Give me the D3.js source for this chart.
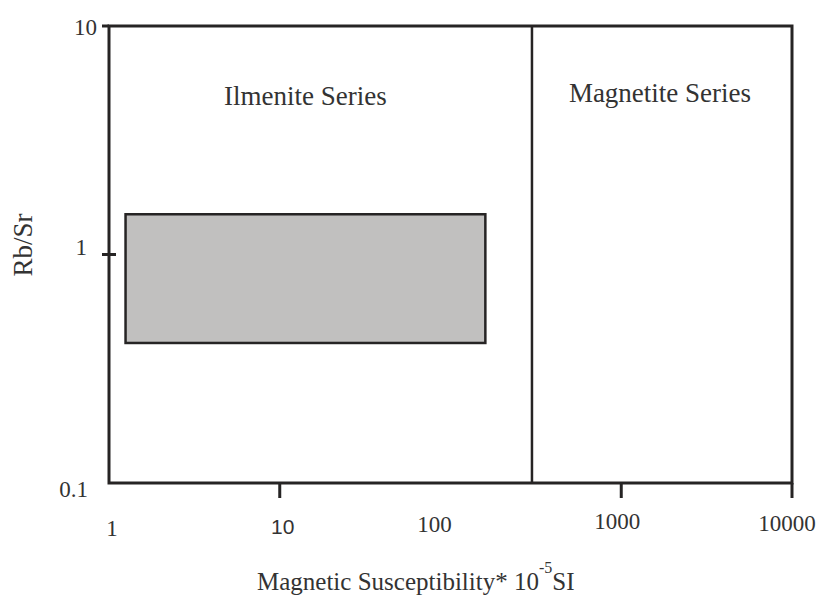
<!DOCTYPE html>
<html>
<head>
<meta charset="utf-8">
<script src="https://cdn.jsdelivr.net/npm/d3@7"></script>
<style>
  html, body { margin: 0; padding: 0; background: #fff; }
  svg { display: block; }
</style>
</head>
<body>
<script>
// Axis domains (log scales)
const xDomain = [1, 10000];
const yDomain = [0.1, 10];

// Tick labels and tick marks
const xTickValues = [1, 10, 100, 1000, 10000];
const xTickLabels = ["1", "10", "100", "1000", "10000"];
const xTickMarks = [10, 1000, 10000];
const yTickValues = [0.1, 1, 10];
const yTickLabels = ["0.1", "1", "10"];
const yTickMarks = [1, 10];

// Boundary between ilmenite and magnetite series (magnetic susceptibility)
const seriesBoundary = 300;

// Sample field: magnetic susceptibility range and Rb/Sr range
const fieldSusceptibility = [1.25, 160];
const fieldRbSr = [0.41, 1.5];

const regionNames = ["Ilmenite Series", "Magnetite Series"];

const W = 817, H = 597;
const margin = { left: 109, right: 25, top: 26, bottom: 114 };
const serif = "'Liberation Serif', 'Times New Roman', Times, 'DejaVu Serif', serif";
const sans = "'Liberation Sans', Arial, Helvetica, sans-serif";
const textColor = "#333";

const svg = d3.select("body").append("svg")
  .attr("width", W).attr("height", H)
  .attr("font-family", serif);

const x = d3.scaleLog().domain(xDomain).range([margin.left, W - margin.right]);
const y = d3.scaleLog().domain(yDomain).range([H - margin.bottom, margin.top]);

const ink = "#262424";

// Sample field box
svg.append("rect")
  .attr("x", x(fieldSusceptibility[0]))
  .attr("y", y(fieldRbSr[1]))
  .attr("width", x(fieldSusceptibility[1]) - x(fieldSusceptibility[0]))
  .attr("height", y(fieldRbSr[0]) - y(fieldRbSr[1]))
  .attr("fill", "#c1c0bf")
  .attr("stroke", ink)
  .attr("stroke-width", 2.5);

// Series boundary
svg.append("line")
  .attr("x1", x(seriesBoundary)).attr("x2", x(seriesBoundary))
  .attr("y1", y(yDomain[1])).attr("y2", y(yDomain[0]))
  .attr("stroke", ink).attr("stroke-width", 2.5);

// Frame
svg.append("rect")
  .attr("x", x(xDomain[0])).attr("y", y(yDomain[1]))
  .attr("width", x(xDomain[1]) - x(xDomain[0]))
  .attr("height", y(yDomain[0]) - y(yDomain[1]))
  .attr("fill", "none")
  .attr("stroke", ink).attr("stroke-width", 3);

// X tick marks (below the frame)
svg.selectAll(".xtick").data(xTickMarks).join("line")
  .attr("class", "xtick")
  .attr("x1", d => x(d)).attr("x2", d => x(d))
  .attr("y1", y(yDomain[0])).attr("y2", y(yDomain[0]) + 15)
  .attr("stroke", ink).attr("stroke-width", 3);

// Y tick marks
svg.selectAll(".ytick").data(yTickMarks).join("line")
  .attr("class", "ytick")
  .attr("x1", x(xDomain[0]) - 7)
  .attr("x2", d => d === 1 ? x(xDomain[0]) + 7 : x(xDomain[0]))
  .attr("y1", d => y(d)).attr("y2", d => y(d))
  .attr("stroke", ink).attr("stroke-width", 3);

// X tick labels (the "10" is set in a sans face)
const xLabelShift = { 1: 3, 10: 3, 100: -16, 1000: -4, 10000: -5 };
svg.selectAll(".xlab").data(xTickValues).join("text")
  .attr("class", "xlab")
  .attr("x", d => x(d) + xLabelShift[d])
  .attr("y", (d, i) => y(yDomain[0]) + 50 + [3, 1, -1, -4, -2][i])
  .attr("text-anchor", "middle")
  .attr("fill", textColor)
  .attr("font-size", d => d === 10 ? 21 : 23)
  .attr("font-family", d => d === 10 ? sans : serif)
  .text((d, i) => xTickLabels[i]);

// Y tick labels
const yLabelNudge = { 10: [0, 9], 1: [-10, 0], 0.1: [-9, 14] };
svg.selectAll(".ylab").data(yTickValues).join("text")
  .attr("class", "ylab")
  .attr("x", d => 97 + yLabelNudge[d][0])
  .attr("y", d => y(d) + yLabelNudge[d][1])
  .attr("text-anchor", "end")
  .attr("fill", textColor)
  .attr("font-size", 23)
  .text((d, i) => yTickLabels[i]);

// Region names
svg.append("text")
  .attr("x", (x(fieldSusceptibility[0]) + x(fieldSusceptibility[1])) / 2)
  .attr("y", y(yDomain[1]) + 79)
  .attr("text-anchor", "middle")
  .attr("fill", textColor)
  .attr("font-size", 27)
  .text(regionNames[0]);

svg.append("text")
  .attr("x", (x(seriesBoundary) + x(xDomain[1])) / 2 - 2)
  .attr("y", y(yDomain[1]) + 76)
  .attr("text-anchor", "middle")
  .attr("fill", textColor)
  .attr("font-size", 27)
  .text(regionNames[1]);

// Axis titles
const xt = svg.append("text")
  .attr("x", 257).attr("y", 590)
  .attr("fill", textColor)
  .attr("font-size", 25);
xt.append("tspan").text("Magnetic Susceptibility* 10");
xt.append("tspan").attr("dx", 0).attr("dy", -17).attr("font-size", 16).text("-5");
xt.append("tspan").attr("dx", 0).attr("dy", 17).text("SI");

svg.append("text")
  .attr("transform", "translate(32,245) rotate(-90)")
  .attr("text-anchor", "middle")
  .attr("fill", textColor)
  .attr("font-size", 27)
  .text("Rb/Sr");
</script>
</body>
</html>
